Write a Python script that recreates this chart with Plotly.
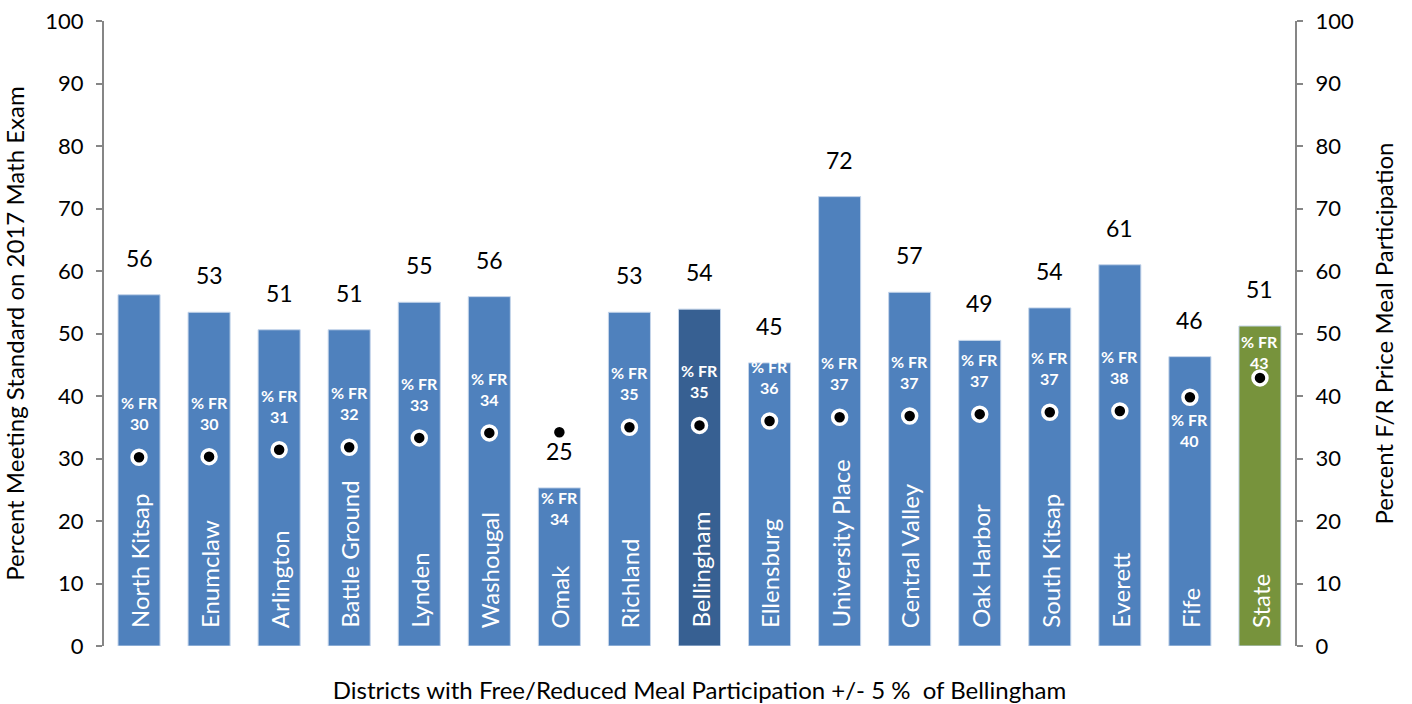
import plotly.graph_objects as go

# districts in chart order, last entry is the state average
districts = ["North Kitsap", "Enumclaw", "Arlington", "Battle Ground", "Lynden",
             "Washougal", "Omak", "Richland", "Bellingham", "Ellensburg",
             "University Place", "Central Valley", "Oak Harbor", "South Kitsap",
             "Everett", "Fife", "State"]
# percent meeting standard on 2017 math exam (left axis, bars)
math_pct = [56.2, 53.4, 50.6, 50.6, 55.0, 55.9, 25.3, 53.4, 53.9, 45.3,
            71.9, 56.6, 48.9, 54.1, 61.0, 46.3, 51.2]
# percent free/reduced price meal participation (right axis, dots)
fr_pct = [30.2, 30.3, 31.4, 31.8, 33.3, 34.1, 34.2, 35.0, 35.3, 36.0,
          36.6, 36.8, 37.1, 37.4, 37.6, 39.8, 42.9]

FONT = "Lato, 'Open Sans', sans-serif"
AXIS_GREY = "#868686"

bar_colors = []
for d in districts:
    if d == "Bellingham":
        bar_colors.append("#376092")
    elif d == "State":
        bar_colors.append("#77933c")
    else:
        bar_colors.append("#4f81bd")

fig = go.Figure()
fig.add_trace(go.Bar(
    x=districts, y=math_pct,
    marker=dict(color=bar_colors, line=dict(color="#c5d5ea", width=1)),
    hoverinfo="x+y",
))
fig.add_trace(go.Scatter(
    x=districts, y=fr_pct, yaxis="y2", mode="markers",
    marker=dict(color="black", size=14, line=dict(color="white", width=3.5)),
))

annotations = []
for d, m, f in zip(districts, math_pct, fr_pct):
    # value label above bar
    annotations.append(dict(
        x=d, y=m, yref="y", text=f"{m:.0f}", showarrow=False,
        yshift=37, font=dict(size=23, color="black", family=FONT),
    ))
    # district name inside bar, rotated
    annotations.append(dict(
        x=d, y=0, yref="y", text=d, showarrow=False, textangle=-90,
        yanchor="bottom", yshift=16,
        font=dict(size=24, color="white", family=FONT),
    ))
    # % FR label near the dot
    fr_text = f"<b>% FR</b><br><b>{f:.0f}</b>"
    if d == "Omak":
        pos = dict(y=m, yref="y", yshift=-20)
    elif d == "Fife":
        pos = dict(y=f, yref="y2", yshift=-33)
    elif d == "State":
        pos = dict(y=f, yref="y2", yshift=26)
    else:
        pos = dict(y=f, yref="y2", yshift=44)
    annotations.append(dict(
        x=d, text=fr_text, showarrow=False,
        font=dict(size=16, color="white", family=FONT), **pos,
    ))

axis_common = dict(
    range=[0, 100], dtick=10, showgrid=False, zeroline=False,
    showline=True, linecolor=AXIS_GREY, linewidth=2,
    ticks="outside", ticklen=6, tickcolor=AXIS_GREY, tickwidth=2,
    tickfont=dict(size=22, color="black", family=FONT),
    ticklabelstandoff=8, automargin=False,
)

fig.update_layout(
    width=1412, height=704,
    margin=dict(l=104, r=117, t=21, b=58),
    paper_bgcolor="white", plot_bgcolor="white",
    showlegend=False, bargap=0.4,
    font=dict(family=FONT, color="black"),
    xaxis=dict(
        range=[-0.5, len(districts) - 0.5],
        showticklabels=False, showline=False, ticks="", automargin=False,
        title=dict(text="Districts with Free/Reduced Meal Participation +/- 5 %  of Bellingham",
                   font=dict(size=24, family=FONT), standoff=36),
    ),
    yaxis=dict(
        **axis_common,
        title=dict(text="Percent Meeting Standard on 2017 Math Exam",
                   font=dict(size=24, family=FONT), standoff=25),
    ),
    yaxis2=dict(
        **axis_common, overlaying="y", side="right",
        title=dict(text="Percent F/R Price Meal Participation",
                   font=dict(size=24, family=FONT), standoff=23),
    ),
    annotations=annotations,
)

# drop the default page margin so the figure fills the window exactly
fig.write_html("out.html", config={"displayModeBar": False},
               post_script="document.body.style.margin = '0px';")
